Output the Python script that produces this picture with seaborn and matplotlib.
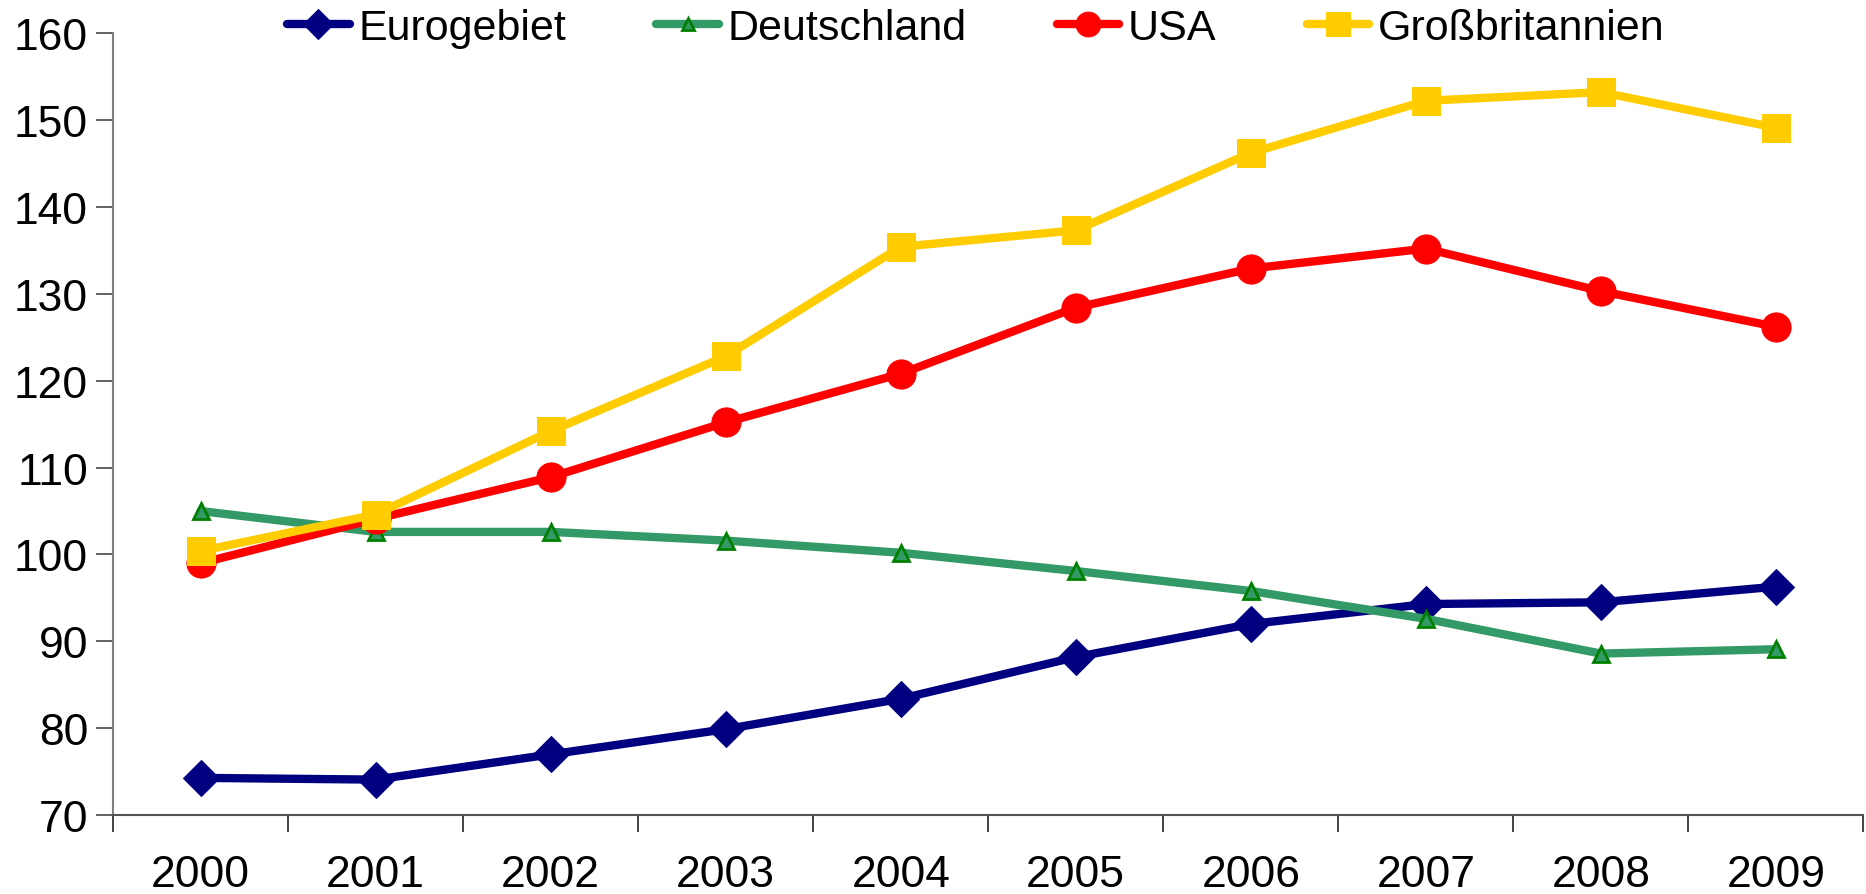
import numpy as np
import pandas as pd
import seaborn as sns
import matplotlib as mpl
import matplotlib.pyplot as plt

# data
years = ["2000", "2001", "2002", "2003", "2004", "2005", "2006", "2007", "2008", "2009"]
eurogebiet = [74.3, 74.1, 77.0, 79.9, 83.4, 88.2, 92.0, 94.3, 94.5, 96.3]
deutschland = [105.0, 102.6, 102.6, 101.6, 100.2, 98.1, 95.8, 92.6, 88.6, 89.1]
usa = [99.0, 104.1, 108.9, 115.2, 120.8, 128.4, 132.9, 135.2, 130.3, 126.2]
grossbritannien = [100.4, 104.6, 114.2, 122.8, 135.4, 137.3, 146.2, 152.2, 153.2, 149.1]

series = ["Eurogebiet", "Deutschland", "USA", "Großbritannien"]

sns.set_style("white")
mpl.rcParams["font.family"] = ["Liberation Sans", "DejaVu Sans"]
mpl.rcParams["text.color"] = "black"
mpl.rcParams["xtick.labelcolor"] = "black"
mpl.rcParams["ytick.labelcolor"] = "black"

df = pd.DataFrame({
    "pos": np.tile(np.arange(len(years)), 4),
    "wert": eurogebiet + deutschland + usa + grossbritannien,
    "serie": np.repeat(series, len(years)),
})

styles = {
    "Eurogebiet": dict(color="#000080", marker="D", markersize=18,
                       markerfacecolor="#000080", markeredgecolor="#000080"),
    "Deutschland": dict(color="#339966", marker="^", markersize=11,
                        markerfacecolor="#339966", markeredgecolor="#008000",
                        markeredgewidth=2),
    "USA": dict(color="#FF0000", marker="o", markersize=21,
                markerfacecolor="#FF0000", markeredgecolor="#FF0000"),
    "Großbritannien": dict(color="#FFCC00", marker="s", markersize=20,
                           markerfacecolor="#FFCC00", markeredgecolor="#FFCC00"),
}

fig = plt.figure(figsize=(18.66, 8.95), dpi=100)
ax = fig.add_axes([0.0606, 0.088, 0.938, 0.874])

for name in series:
    sub = df[df["serie"] == name]
    sns.lineplot(data=sub, x="pos", y="wert", ax=ax, label=name,
                 linewidth=6, legend=False, **styles[name])

ax.set_xlim(-0.5, len(years) - 0.5)
ax.set_ylim(70, 160)
ax.set_yticks(range(70, 161, 10))
ax.set_xticks(range(len(years)))
ax.set_xticklabels(years)
# category boundaries get the tick marks, labels sit in between
ax.set_xticks(np.arange(-0.5, len(years)), minor=True)
ax.tick_params(axis="x", which="major", length=0, pad=28, labelsize=32)
ax.tick_params(axis="x", which="minor", length=12, width=1.3, color="#333333",
               direction="out", bottom=True)
ax.tick_params(axis="y", length=12, width=1.3, color="#555555", direction="out",
               left=True, pad=6, labelsize=32)
ax.set_xlabel("")
ax.set_ylabel("")

sns.despine(ax=ax)
ax.spines["left"].set_color("#808080")
ax.spines["bottom"].set_color("#555555")
ax.spines["left"].set_linewidth(1.5)
ax.spines["bottom"].set_linewidth(1.5)

handles, labels = ax.get_legend_handles_labels()
fig.legend(handles, labels, loc="center", bbox_to_anchor=(0.523, 0.968),
           ncol=4, frameon=False, fontsize=31, handlelength=1.45,
           handletextpad=0.2, columnspacing=2.1, markerscale=0.85,
           borderaxespad=0)

fig.savefig("out.png", dpi=100)
